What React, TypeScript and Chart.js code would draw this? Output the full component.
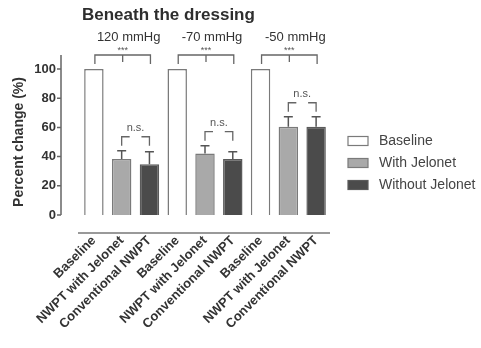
import { useEffect, useRef } from "react";
import { Chart, registerables } from "chart.js";

Chart.register(...registerables);

const categories = [
  "Baseline", "NWPT with Jelonet", "Conventional NWPT",
  "Baseline", "NWPT with Jelonet", "Conventional NWPT",
  "Baseline", "NWPT with Jelonet", "Conventional NWPT",
];
const pressureLabels = ["120 mmHg", "-70 mmHg", "-50 mmHg"];
const seriesNames = ["Baseline", "With Jelonet", "Without Jelonet"];
const baselineValues = [100, 100, 100];
const jelonetValues = [38.4, 42.2, 60.5];
const jelonetErrors = [5.6, 5.3, 6.8];
const conventionalValues = [34.7, 38.4, 60.5];
const conventionalErrors = [8.7, 5.0, 6.8];
const groupSignificance = ["***", "***", "***"];
const pairSignificance = ["n.s.", "n.s.", "n.s."];
const yTicks = [0, 20, 40, 60, 80, 100];
const chartTitle = "Beneath the dressing";
const yTitle = "Percent change (%)";

const FONT = "'Liberation Sans', Arial, Helvetica, sans-serif";
const fills = ["#ffffff", "#a9a9a9", "#4b4b4b"];
const borders = ["#7a7a7a", "#7a7a7a", "#5a5a5a"];
const seriesValues = [baselineValues, jelonetValues, conventionalValues];
const seriesErrors = [null, jelonetErrors, conventionalErrors];

const decorPlugin = {
  id: "decor",
  afterDraw(chart: any) {
    const ctx = chart.ctx as CanvasRenderingContext2D;
    const ys = chart.scales.y;
    const area = chart.chartArea;
    ctx.save();

    // error bars
    ctx.strokeStyle = "#555";
    ctx.lineWidth = 1.5;
    for (let s = 1; s < 3; s++) {
      const meta = chart.getDatasetMeta(s);
      const vals = seriesValues[s];
      const errs = seriesErrors[s] as number[];
      vals.forEach((v, g) => {
        const el = meta.data[g * 3 + s];
        const xc = el.x;
        const y0 = ys.getPixelForValue(v);
        const y1 = ys.getPixelForValue(v + errs[g]);
        ctx.beginPath();
        ctx.moveTo(xc, y0);
        ctx.lineTo(xc, y1);
        ctx.moveTo(xc - 4.5, y1);
        ctx.lineTo(xc + 4.5, y1);
        ctx.stroke();
      });
    }

    // y axis line and ticks
    const axisX = area.left - 19;
    ctx.strokeStyle = "#666";
    ctx.lineWidth = 1.5;
    ctx.beginPath();
    ctx.moveTo(axisX, ys.getPixelForValue(100) - 14);
    ctx.lineTo(axisX, ys.getPixelForValue(0));
    yTicks.forEach((t) => {
      const py = ys.getPixelForValue(t);
      ctx.moveTo(axisX - 4, py);
      ctx.lineTo(axisX, py);
    });
    ctx.stroke();

    // x axis line
    ctx.strokeStyle = "#777";
    ctx.beginPath();
    const xLineY = area.bottom + 18;
    ctx.moveTo(area.left - 2, xLineY);
    ctx.lineTo(area.right, xLineY);
    ctx.stroke();

    // title
    ctx.fillStyle = "#2e2e2e";
    ctx.font = `bold 17px ${FONT}`;
    ctx.textAlign = "left";
    ctx.textBaseline = "middle";
    ctx.fillText(chartTitle, area.left + 2, 15);

    // group labels & significance
    const b0 = chart.getDatasetMeta(0).data;
    const b1 = chart.getDatasetMeta(1).data;
    const b2 = chart.getDatasetMeta(2).data;
    pressureLabels.forEach((lab, g) => {
      const xa = b0[g * 3].x;
      const xb = b1[g * 3 + 1].x;
      const xc = b2[g * 3 + 2].x;
      ctx.fillStyle = "#333";
      ctx.font = `13px ${FONT}`;
      ctx.textAlign = "center";
      ctx.fillText(lab, xb + 7, 37);

      const top = ys.getPixelForValue(100) - 14;
      ctx.strokeStyle = "#666";
      ctx.lineWidth = 1.3;
      ctx.beginPath();
      ctx.moveTo(xa + 1, top + 9);
      ctx.lineTo(xa + 1, top);
      ctx.lineTo(xc + 1, top);
      ctx.lineTo(xc + 1, top + 9);
      ctx.moveTo(xb + 1, top);
      ctx.lineTo(xb + 1, top + 7);
      ctx.stroke();
      ctx.fillStyle = "#555";
      ctx.font = `9px ${FONT}`;
      ctx.fillText(groupSignificance[g], xb + 1, top - 4);

      // pair bracket
      const cap1 = ys.getPixelForValue(jelonetValues[g] + jelonetErrors[g]);
      const cap2 = ys.getPixelForValue(conventionalValues[g] + conventionalErrors[g]);
      const bottom = Math.min(cap1, cap2) - 5;
      const btop = bottom - 9;
      ctx.beginPath();
      ctx.moveTo(xb, bottom);
      ctx.lineTo(xb, btop);
      ctx.lineTo(xb + 8, btop);
      ctx.moveTo(xc - 8, btop);
      ctx.lineTo(xc, btop);
      ctx.lineTo(xc, bottom);
      ctx.stroke();
      ctx.fillStyle = "#555";
      ctx.font = `11px ${FONT}`;
      ctx.fillText(pairSignificance[g], (xb + xc) / 2, btop - 9);
    });

    // legend
    const lx = area.right + 18;
    ctx.font = `14px ${FONT}`;
    ctx.textAlign = "left";
    chart.data.datasets.forEach((ds: any, i: number) => {
      const cy = 141 + i * 22;
      ctx.fillStyle = ds.backgroundColor;
      ctx.fillRect(lx, cy - 4.5, 20, 9);
      ctx.strokeStyle = ds.borderColor;
      ctx.lineWidth = 1.2;
      ctx.strokeRect(lx, cy - 4.5, 20, 9);
      ctx.fillStyle = "#444";
      ctx.fillText(ds.label, lx + 31, cy);
    });

    ctx.restore();
  },
};

export default function App() {
  const ref = useRef<HTMLCanvasElement | null>(null);
  useEffect(() => {
    document.body.style.margin = "0";
    const datasets = seriesNames.map((name, s) => ({
      label: name,
      data: categories.map((_, i) =>
        i % 3 === s ? seriesValues[s][Math.floor(i / 3)] : null
      ),
      backgroundColor: fills[s],
      borderColor: borders[s],
      borderWidth: 1.5,
      barPercentage: 0.7,
      categoryPercentage: 1,
    }));
    const chart = new Chart(ref.current as HTMLCanvasElement, {
      type: "bar",
      data: { labels: categories, datasets },
      options: {
        responsive: false,
        animation: false,
        layout: { padding: { top: 69, right: 151, left: 0, bottom: 0 } },
        plugins: { legend: { display: false }, tooltip: { enabled: false } },
        scales: {
          x: {
            stacked: true,
            grid: { display: false, drawTicks: false },
            border: { display: false },
            afterFit: (s: any) => { s.height = 133; },
            ticks: {
              autoSkip: false,
              maxRotation: 45,
              minRotation: 45,
              padding: 18,
              color: "#333",
              font: { family: FONT, size: 13, weight: "bold" },
            },
          },
          y: {
            min: 0,
            max: 100,
            grid: { display: false, drawTicks: false },
            border: { display: false },
            afterFit: (s: any) => { s.width = 80; },
            afterBuildTicks: (s: any) => { s.ticks = yTicks.map((v) => ({ value: v })); },
            ticks: {
              padding: 24,
              color: "#333",
              font: { family: FONT, size: 13, weight: "bold" },
            },
            title: {
              display: true,
              text: yTitle,
              color: "#333",
              padding: { top: 11, bottom: 0 },
              font: { family: FONT, size: 14, weight: "bold" },
            },
          },
        },
      },
      plugins: [decorPlugin],
    });
    return () => chart.destroy();
  }, []);
  return (
    <div style={{ position: "absolute", left: 0, top: 0, width: 481, height: 348, background: "#fff" }}>
      <canvas ref={ref} width={481} height={348} style={{ width: 481, height: 348 }} />
    </div>
  );
}
